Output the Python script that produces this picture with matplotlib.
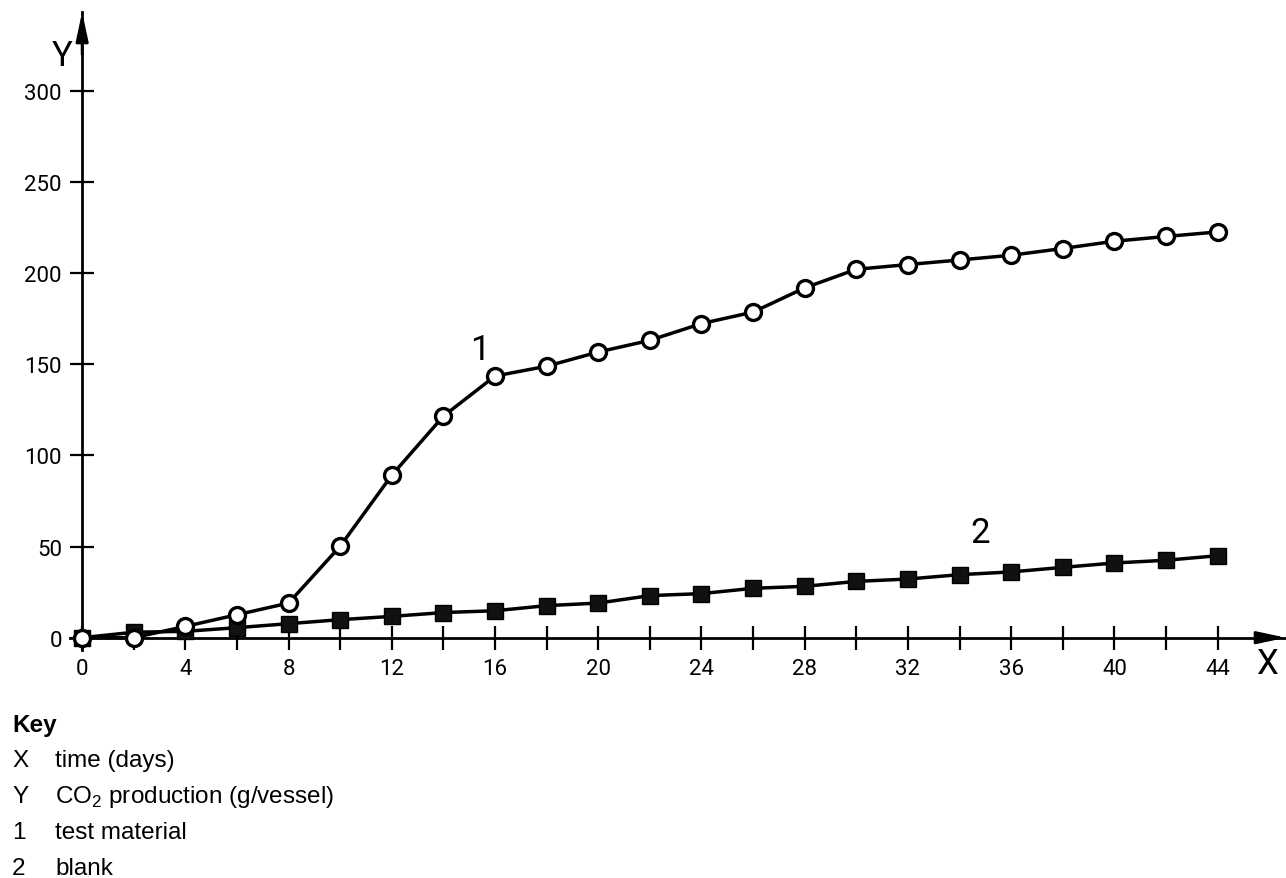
import matplotlib
matplotlib.use('Agg')
import matplotlib.pyplot as plt

# days
days = [0, 2, 4, 6, 8, 10, 12, 14, 16, 18, 20, 22, 24, 26, 28, 30, 32, 34, 36, 38, 40, 42, 44]
# CO2 production (g/vessel)
test_material = [0, 0, 6.2, 12.6, 19, 50.2, 89.2, 121.6, 143.6, 149, 156.8, 163.2, 172.4,
                 178.7, 192, 202.2, 204.8, 207.3, 209.9, 213.6, 217.6, 220.2, 222.7]
blank = [0, 3, 3.5, 5.5, 7.7, 9.9, 11.7, 13.8, 14.8, 17.6, 19.0, 23.1, 24.2, 27.1, 28.2,
         30.9, 32.2, 34.6, 36.1, 38.6, 41.0, 42.5, 45.0]
x_ticks = list(range(0, 45, 4))
x_minor = list(range(0, 45, 2))
y_ticks = [0, 50, 100, 150, 200, 250, 300]
key_codes = ['X', 'Y', '1', '2']
key_texts = ['time (days)', r'CO$_\mathregular{2}$ production (g/vessel)', 'test material', 'blank']

iso_font = ['Roboto', 'DejaVu Sans']
plt.rcParams['mathtext.fontset'] = 'custom'
plt.rcParams['mathtext.rm'] = 'Liberation Sans'

W, H = 1286, 879
fig = plt.figure(figsize=(W / 100, H / 100), dpi=100)
ax = fig.add_axes([70 / W, 1 - 651 / H, 1 - 70 / W, (651 - 13) / H])
ax.set_xlim(-0.47, 46.65)
ax.set_ylim(-6.75, 343.4)

for side in ['top', 'right']:
    ax.spines[side].set_visible(False)
ax.spines['left'].set_position(('data', 0))
ax.spines['bottom'].set_position(('data', 0))
ax.spines['left'].set_linewidth(2)
ax.spines['bottom'].set_linewidth(2)

ax.set_xticks(x_ticks)
ax.set_xticks(x_minor, minor=True)
ax.set_yticks(y_ticks)
ax.tick_params(which='both', direction='inout', length=17, width=1.6, pad=6,
               labelsize=16)
for lab in ax.get_xticklabels() + ax.get_yticklabels():
    lab.set_family(iso_font)

# arrow heads
arrow = dict(arrowstyle='-|>,head_length=0.7,head_width=0.15', mutation_scale=25,
             color='k', lw=2, shrinkA=0, shrinkB=0)
ax.annotate('', xy=(46.65, 0), xytext=(45.5, 0), arrowprops=arrow, annotation_clip=False)
ax.annotate('', xy=(0, 343.4), xytext=(0, 320), arrowprops=arrow, annotation_clip=False)

# plotting the points
ax.plot(days, blank, '-', color='k', lw=2.5, marker='s', ms=12, mfc='#111111',
        mec='k', mew=1, clip_on=False, zorder=3)
ax.plot(days, test_material, '-', color='k', lw=2.5, marker='o', ms=11.5, mfc='white',
        mec='k', mew=2.4, clip_on=False, zorder=4)

ax.text(15.4, 158, '1', family=iso_font, fontsize=25, ha='center', va='center')
ax.text(34.8, 58, '2', family=iso_font, fontsize=25, ha='center', va='center')

# axis letters
fig.text(62 / W, 1 - 57 / H, 'Y', family=iso_font, fontsize=25, ha='center', va='center')
fig.text(1267 / W, 1 - 665 / H, 'X', family=iso_font, fontsize=25, ha='center', va='center')

# key
fig.text(12 / W, 1 - 732 / H, 'Key', family='Liberation Sans', fontweight='bold',
         fontsize=17.5, ha='left', va='baseline')
for i, (code, txt) in enumerate(zip(key_codes, key_texts)):
    yb = 1 - (767 + 36 * i) / H
    fig.text(12 / W, yb, code, family='Liberation Sans', fontsize=17.5, ha='left', va='baseline')
    fig.text(55 / W, yb, txt, family='Liberation Sans', fontsize=17.5, ha='left', va='baseline')

fig.savefig('out.png', dpi=100)
